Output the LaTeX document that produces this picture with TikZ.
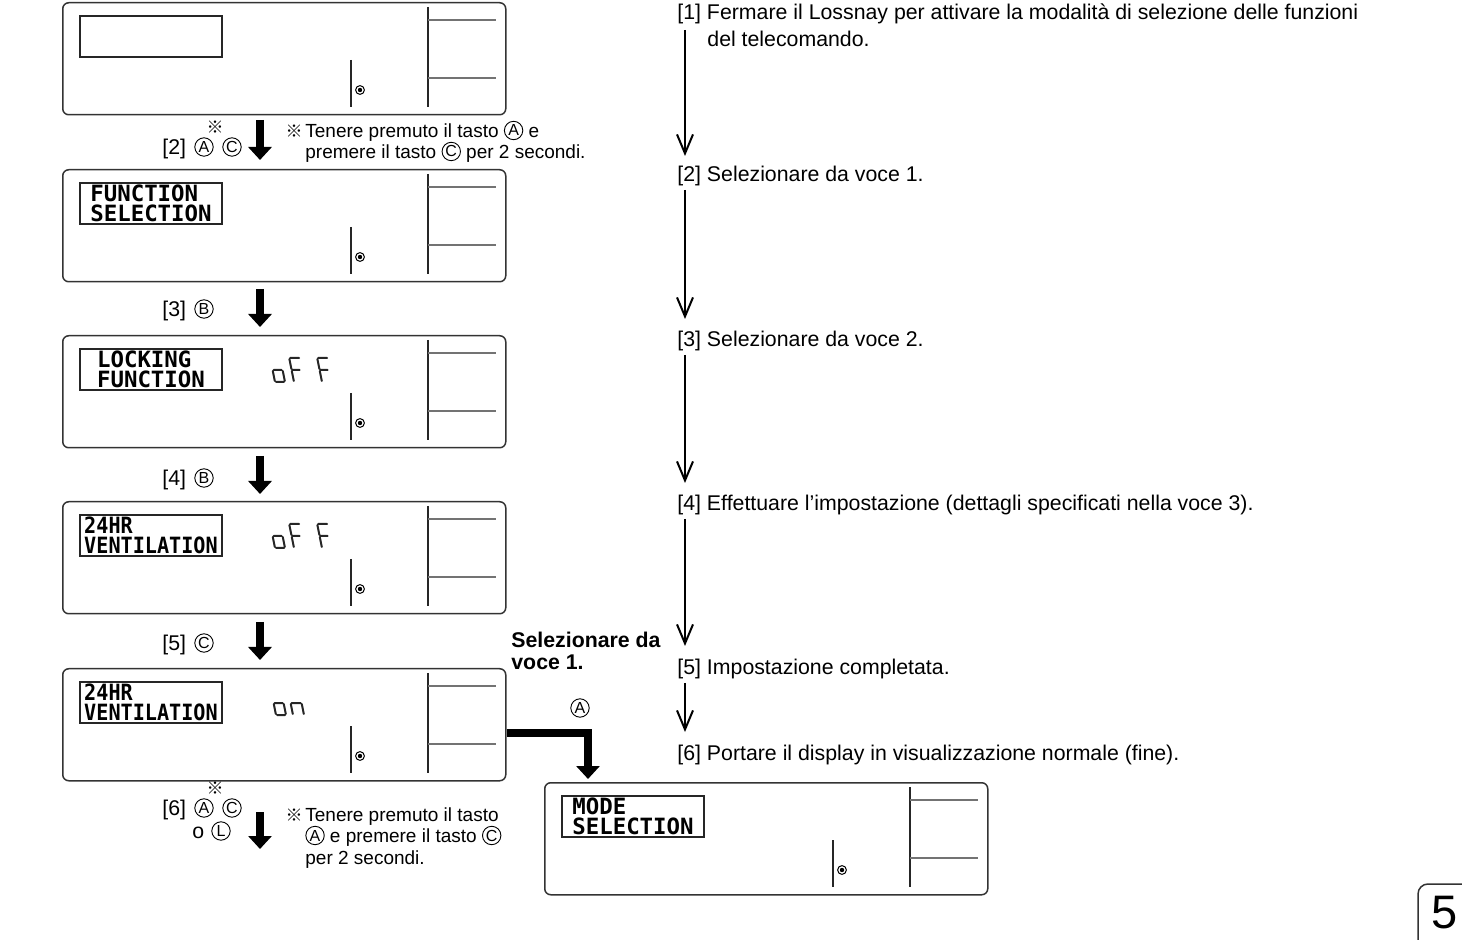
\documentclass[tikz,border=0pt]{standalone}
\usepackage{fontspec}
\usepackage{graphicx}
\setmainfont{Liberation Sans}
\newfontfamily\lcdfont{DejaVu Sans Mono}
\newfontfamily\cjk{Noto Sans CJK JP}
\usetikzlibrary{arrows.meta,calc}

\tikzset{
 dispframe/.style={draw=black!80, line width=0.75pt, rounded corners=3pt, minimum width=221.5pt, minimum height=56pt, inner sep=0pt},
 lcdbox/.style={draw=black!85, line width=0.7pt, minimum width=71pt, minimum height=20.5pt, inner sep=0pt, align=left, font=\lcdfont\bfseries\fontsize{11.2}{9.8}\selectfont},
 sepline/.style={draw=black!85, line width=0.6pt},
 greyline/.style={draw=black!55, line width=0.6pt},
 seg/.style={line width=1pt, line cap=round, draw=black!85},
 bigarrow/.style={line width=4pt, -{Triangle[width=11.5pt,length=6.5pt]}},
 thinarrow/.style={line width=1pt, -{Straight Barb[length=9.5pt,width=8pt]}},
 txt/.style={anchor=base west, inner sep=0pt, font=\fontsize{10.65}{12.8}\selectfont},
 boldtxt/.style={anchor=base west, inner sep=0pt, font=\bfseries\fontsize{10.65}{12.8}\selectfont},
 note/.style={anchor=base west, inner sep=0pt, font=\fontsize{9.5}{11}\selectfont},
 circ/.style={circle, draw, line width=0.45pt, inner sep=0pt, minimum size=9.2pt, font=\fontsize{8}{8}\selectfont},
 kome/.style={inner sep=0pt, font=\cjk\fontsize{8.5}{9}\selectfont},
 pics/sego/.style={code={\begin{scope}[yscale=-1,xslant=0.2]
   \draw[seg] (1,0)--(9,0) (0,1)--(0,11) (10,1)--(10,11) (1,12)--(9,12);
 \end{scope}}},
 pics/segF/.style={code={\begin{scope}[yscale=-1,xslant=0.2]
   \draw[seg] (0,1)--(0,11) (0,13)--(0,23) (1,24)--(10,24) (1,12)--(8,12);
 \end{scope}}},
 pics/segn/.style={code={\begin{scope}[yscale=-1,xslant=0.2]
   \draw[seg] (0,1)--(0,11) (11,1)--(11,11) (1,12)--(10,12);
 \end{scope}}},
}

\newcommand{\cl}[1]{\tikz[baseline={([yshift=-0.9pt]cc.base)}]\node[circ,anchor=center](cc){#1};}
\newcommand{\narrow}[1]{\scalebox{0.9}[1]{#1}}

\newcommand{\dispbox}[4]{%
 \node[dispframe, anchor=north west] (#1) at (#2,#3) {};
 \begin{scope}[shift={(#2,#3)}]
  \node[lcdbox] (#1lab) at (89,34.5) {#4};
  \draw[sepline] (289,58) -- (289,105);
  \draw[sepline] (366,5) -- (366,105);
  \draw[greyline] (366,18) -- (434,18) (366,76) -- (434,76);
  \draw[line width=0.5pt] (298,88) circle[radius=2.2pt];
  \fill (298,88) circle[radius=1.1pt];
 \end{scope}}

\begin{document}
\begin{tikzpicture}[x=0.5pt,y=-0.5pt]
\useasboundingbox (0,0) rectangle (1462,940);

% display boxes
\dispbox{b1}{62}{2}{}
\dispbox{b2}{62}{169}{FUNCTION\\SELECTION}
\dispbox{b3}{62}{335}{LOCKING\\FUNCTION}
\dispbox{b4}{62}{501}{\narrow{24HR}\\\narrow{VENTILATION}}
\dispbox{b5}{62}{668}{\narrow{24HR}\\\narrow{VENTILATION}}
\dispbox{b6}{544}{782}{MODE\\SELECTION}

% seven-segment values
\pic at (275,382) {sego}; \pic at (294,382) {segF}; \pic at (322,382) {segF};
\pic at (275,548) {sego}; \pic at (294,548) {segF}; \pic at (322,548) {segF};
\pic at (276,715) {sego}; \pic at (293,715) {segn};

% big arrows
\coordinate (s2a) at (260,120); \coordinate (s2b) at (260,160);
\coordinate (s3a) at (260,289); \coordinate (s3b) at (260,327);
\coordinate (s4a) at (260,456); \coordinate (s4b) at (260,494);
\coordinate (s5a) at (260,622); \coordinate (s5b) at (260,660);
\coordinate (s6a) at (260,812); \coordinate (s6b) at (260,849);
\draw[bigarrow] (s2a) -- (s2b);
\draw[bigarrow] (s3a) -- (s3b);
\draw[bigarrow] (s4a) -- (s4b);
\draw[bigarrow] (s5a) -- (s5b);
\draw[bigarrow] (s6a) -- (s6b);

% L-shaped arrow to mode selection
\coordinate (lstart) at (b5.east |- 0,733);
\coordinate (lcorner) at (588,733);
\coordinate (lend) at (588,779);
\draw[bigarrow, line join=miter] (lstart) -- (lcorner) -- (lend);
\node[circ] (lA) at (580,708) {A};
\node[boldtxt] (sel1) at (511,647.6) {Selezionare da};
\node[boldtxt] (sel2) at (511,669.6) {voce 1.};

% left step labels
\node[txt] (k2) at (162,154.7) {[2]};
\node[circ] (k2a) at (204,147) {A};
\node[circ] (k2c) at (232,147) {C};
\node[kome] (k2k) at (215,127) {※};
\node[txt] (k3) at (162,316.7) {[3]};
\node[circ] (k3b) at (204,309) {B};
\node[txt] (k4) at (162,485.7) {[4]};
\node[circ] (k4b) at (204,478) {B};
\node[txt] (k5) at (162,650.7) {[5]};
\node[circ] (k5c) at (204,643) {C};
\node[txt] (k6) at (162,815.7) {[6]};
\node[circ] (k6a) at (204,808) {A};
\node[circ] (k6c) at (232,808) {C};
\node[kome] (k6k) at (215,788) {※};
\node[txt] (k6o) at (192,838.7) {o};
\node[circ] (k6l) at (221,831) {L};

% notes
\node[kome] (n1k) at (294,131) {※};
\node[note] (n1a) at (305,137.8) {Tenere premuto il tasto \cl{A} e};
\node[note] (n1b) at (305,158.8) {premere il tasto \cl{C} per 2 secondi.};
\node[kome] (n2k) at (294,815) {※};
\node[note] (n2a) at (305,821.8) {Tenere premuto il tasto};
\node[note] (n2b) at (305,842.8) {\cl{A} e premere il tasto \cl{C}};
\node[note] (n2c) at (305,864.8) {per 2 secondi.};

% right-hand procedure
\node[txt] (t1) at (677,19.5) {[1] Fermare il Lossnay per attivare la modalità di selezione delle funzioni};
\node[txt] (t1b) at (707,46.5) {del telecomando.};
\node[txt] (t2) at (677,181.5) {[2] Selezionare da voce 1.};
\node[txt] (t3) at (677,346.5) {[3] Selezionare da voce 2.};
\node[txt] (t4) at (677,510.5) {[4] Effettuare l’impostazione (dettagli specificati nella voce 3).};
\node[txt] (t5) at (677,674.5) {[5] Impostazione completata.};
\node[txt] (t6) at (677,760.5) {[6] Portare il display in visualizzazione normale (fine).};
\coordinate (r1a) at (685,30);  \coordinate (r1b) at (685,156);
\coordinate (r2a) at (685,190); \coordinate (r2b) at (685,319);
\coordinate (r3a) at (685,355); \coordinate (r3b) at (685,483);
\coordinate (r4a) at (685,519); \coordinate (r4b) at (685,646);
\coordinate (r5a) at (685,683); \coordinate (r5b) at (685,732);
\draw[thinarrow] (r1a) -- (r1b);
\draw[thinarrow] (r2a) -- (r2b);
\draw[thinarrow] (r3a) -- (r3b);
\draw[thinarrow] (r4a) -- (r4b);
\draw[thinarrow] (r5a) -- (r5b);

% page number
\draw[line width=0.75pt, draw=black!80, rounded corners=5pt] (1462,884) -- (1418,884) -- (1418,941);
\node[inner sep=0pt, font=\fontsize{23.5}{26}\selectfont] (pg) at (1445,913) {5};
\end{tikzpicture}
\end{document}
